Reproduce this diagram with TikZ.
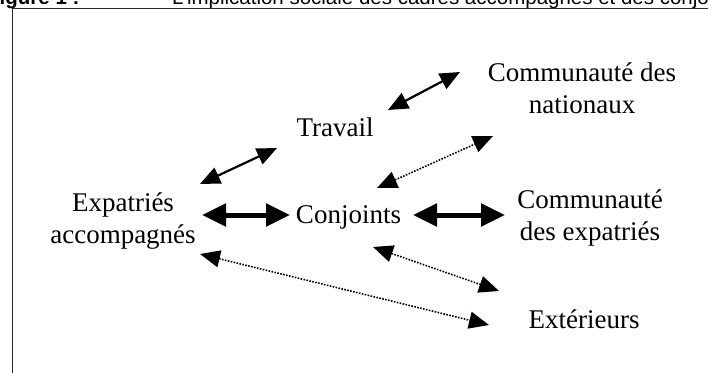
\documentclass[tikz,border=0pt]{standalone}
\usepackage{fontspec}
\setmainfont{Liberation Serif}
\setsansfont{Liberation Sans}
\usetikzlibrary{arrows.meta}
\tikzset{
  lbl/.style={font=\fontsize{27}{32}\selectfont, align=center, inner sep=0pt, anchor=base},
  hdr/.style={font=\sffamily\fontsize{20.5}{24}\selectfont, inner sep=0pt, anchor=base west},
  medarrow/.style={line width=2.2pt, {Triangle[length=20pt,width=17pt]}-{Triangle[length=20pt,width=17pt]}},
  thickarrow/.style={line width=5pt, {Triangle[length=24pt,width=22pt]}-{Triangle[length=24pt,width=22pt]}},
  dotarrow/.style={line width=1.6pt, dash pattern=on 1.6pt off 1.4pt, {Triangle[length=20pt,width=17pt]}-{Triangle[length=20pt,width=17pt]}},
  frame/.style={line width=1.4pt, draw=black!85}
}
\begin{document}
\begin{tikzpicture}[x=1pt,y=-1pt]
\clip (0,0) rectangle (708,372);
% header
\node[hdr, font=\sffamily\bfseries\fontsize{20.5}{24}\selectfont] (fig) at (-13,5) {Figure 1 :};
\node[hdr] (title) at (172,5) {L'implication sociale des cadres accompagnés et des conjoints};
\coordinate (tl) at (12.3,8.3);
\coordinate (tr) at (720,8.3);
\coordinate (bl) at (12.3,380);
\draw[frame] (tr) -- (tl) -- (bl);
% nodes (base = last line)
\node[lbl] (trav) at (335,136) {Travail};
\node[lbl] (nat) at (582,113) {Communauté des\\nationaux};
\node[lbl] (exp) at (123,243) {Expatriés\\accompagnés};
\node[lbl] (conj) at (348.5,223) {Conjoints};
\node[lbl] (cexp) at (590,240) {Communauté\\des expatriés};
\node[lbl] (ext) at (584,328) {Extérieurs};
% arrow end points
\coordinate (travNatA) at (388,110);
\coordinate (travNatB) at (460,72);
\coordinate (expTravA) at (200,184);
\coordinate (expTravB) at (277,148);
\coordinate (expConjA) at (202,215);
\coordinate (expConjB) at (290,215);
\coordinate (conjCexpA) at (413,215);
\coordinate (conjCexpB) at (505,215);
\coordinate (conjNatA) at (377,188);
\coordinate (conjNatB) at (493,136);
\coordinate (conjExtA) at (373,247);
\coordinate (conjExtB) at (499,291);
\coordinate (expExtA) at (200,254);
\coordinate (expExtB) at (489,325);
% connectors
\draw[medarrow] (travNatA) -- (travNatB);
\draw[medarrow] (expTravA) -- (expTravB);
\draw[thickarrow] (expConjA) -- (expConjB);
\draw[thickarrow] (conjCexpA) -- (conjCexpB);
\draw[dotarrow] (conjNatA) -- (conjNatB);
\draw[dotarrow] (conjExtA) -- (conjExtB);
\draw[dotarrow] (expExtA) -- (expExtB);
\end{tikzpicture}
\end{document}
